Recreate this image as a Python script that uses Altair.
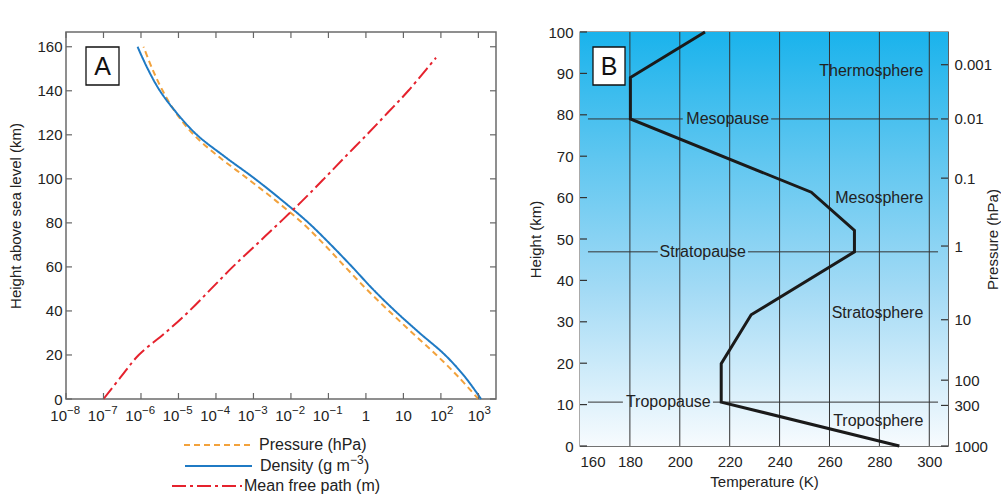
import altair as alt
import pandas as pd

FONT = "Liberation Sans"
INK = "#222222"

# ---------------- Panel A: vertical profiles on a logarithmic axis ----------------
alt_km = [0, 10, 20, 30, 40, 50, 60, 70, 80, 90, 100, 110, 120, 130, 140, 150, 160]
pressure_hpa = [1.0e3, 2.95e2, 7.6e1, 1.74e1, 4.1, 1.02, 2.8e-1, 7.9e-2, 2.0e-2, 4.0e-3,
                7.1e-4, 1.2e-4, 2.57e-5, 8.5e-6, 3.8e-6, 2.0e-6, 1.17e-6]
density_gm3 = [1.18e3, 4.4e2, 1.29e2, 2.7e1, 6.0, 1.51, 4.3e-1, 1.17e-1, 2.95e-2, 6.0e-3,
               1.1e-3, 1.74e-4, 3.1e-5, 8.9e-6, 3.2e-6, 1.51e-6, 8.1e-7]
mfp_km = [0, 10, 20, 30, 40, 50, 60, 70, 80, 90, 100, 110, 120, 130, 140, 150, 155]
mfp_m = [1.0e-7, 2.9e-7, 8.7e-7, 4.4e-6, 1.95e-5, 7.4e-5, 2.8e-4, 1.17e-3, 4.9e-3, 2.0e-2,
         7.6e-2, 2.8e-1, 1.05, 3.8, 1.35e1, 4.2e1, 7.4e1]

series_names = ["Pressure (hPa)", "Density (g m", "Mean free path (m)"]
series_colors = ["#F2A23C", "#1F7AC4", "#E5222D"]
series_dashes = [[6, 4], [1, 0], [14, 4, 3, 4]]

neg_exp = [-8, -7, -6, -5, -4, -3, -2, -1]
pos_exp = [2, 3]
plain_vals = [1, 10]
plain_labels = ["1", "10"]
height_ticks_a = [0, 20, 40, 60, 80, 100, 120, 140, 160]

# ---------------- Panel B: standard temperature profile ----------------
temp_k = [288.0, 216.6, 216.6, 228.6, 270.0, 270.0, 252.7, 180.2, 180.2, 210.1]
temp_km = [0.0, 10.6, 19.9, 31.7, 46.9, 52.1, 61.3, 79.0, 89.0, 100.0]

temp_grid_k = [180, 200, 220, 240, 260, 280, 300]
temp_ticks_k = [160, 180, 200, 220, 240, 260, 280, 300]
height_ticks_b = [0, 10, 20, 30, 40, 50, 60, 70, 80, 90, 100]

layer_names = ["Thermosphere", "Mesosphere", "Stratosphere", "Troposphere"]
layer_label_km = [90.6, 59.8, 32.2, 6.0]
layer_label_k = [297.6, 297.6, 297.6, 297.6]

pause_names = ["Mesopause", "Stratopause", "Tropopause"]
pause_km = [79.0, 46.9, 10.6]
pause_label_k = [219.2, 209.2, 195.4]
pause_line_k = [163.2, 303.5]
pause_gap_from_k = [201.2, 191.2, 177.2]
pause_gap_to_k = [236.6, 227.3, 213.3]

pressure_tick_labels = ["1000", "300", "100", "10", "1", "0.1", "0.01", "0.001"]
pressure_tick_km = [0.0, 9.8, 15.9, 30.5, 48.3, 64.7, 79.0, 92.1]

# ---------------- tables ----------------
rows = []
for h, v in zip(alt_km, pressure_hpa):
    rows.append({"series": series_names[0], "height": h, "value": v})
for h, v in zip(alt_km, density_gm3):
    rows.append({"series": series_names[1], "height": h, "value": v})
for h, v in zip(mfp_km, mfp_m):
    rows.append({"series": series_names[2], "height": h, "value": v})
profiles = pd.DataFrame(rows)

decades_df = pd.DataFrame({"value": [10.0 ** e for e in range(-8, 4)]})
neg_df = pd.DataFrame({"value": [10.0 ** e for e in neg_exp],
                       "exp": ["\u2212" + str(-e) for e in neg_exp]})
pos_df = pd.DataFrame({"value": [10.0 ** e for e in pos_exp],
                       "exp": [str(e) for e in pos_exp]})
plain_df = pd.DataFrame({"value": plain_vals, "label": plain_labels})
heights_a_df = pd.DataFrame({"height": height_ticks_a})
one = pd.DataFrame({"k": [0]})

# ---------------- panel A ----------------
W_A, H_A = 430, 367
x_scale_a = alt.Scale(type="log", domain=[1e-8, 2950], nice=False)
y_scale_a = alt.Scale(domain=[0, 166.7], nice=False, zero=False)

y_axis_a = alt.Axis(values=height_ticks_a, ticks=False, domain=False, grid=False,
                    title="Height above sea level (km)", titleFontSize=15,
                    titleFontWeight="normal", titleColor=INK, titlePadding=13,
                    labelFontSize=15, labelPadding=4, labelColor=INK)

X_A = alt.X("value:Q", scale=x_scale_a, axis=None)

curves = alt.Chart(profiles).mark_line(strokeWidth=2, interpolate="catmull-rom").encode(
    x=X_A,
    y=alt.Y("height:Q", scale=y_scale_a, axis=y_axis_a),
    color=alt.Color("series:N", scale=alt.Scale(domain=series_names, range=series_colors),
                    legend=None),
    strokeDash=alt.StrokeDash("series:N",
                              scale=alt.Scale(domain=series_names, range=series_dashes),
                              legend=None),
    order=alt.Order("height:Q"),
)

tick_color_a = "#666666"
ticks_bottom = alt.Chart(decades_df).mark_rule(color=tick_color_a, strokeWidth=1.2).encode(
    x=X_A, y=alt.value(H_A), y2=alt.value(H_A - 6))
ticks_top = alt.Chart(decades_df).mark_rule(color=tick_color_a, strokeWidth=1.2).encode(
    x=X_A, y=alt.value(0), y2=alt.value(6))
ticks_left = alt.Chart(heights_a_df).mark_rule(color=tick_color_a, strokeWidth=1.2).encode(
    y=alt.Y("height:Q", scale=y_scale_a, axis=y_axis_a),
    x=alt.value(0), x2=alt.value(6))
ticks_right = alt.Chart(heights_a_df).mark_rule(color=tick_color_a, strokeWidth=1.2).encode(
    y=alt.Y("height:Q", scale=y_scale_a, axis=y_axis_a),
    x=alt.value(W_A - 6), x2=alt.value(W_A))

# decade labels written as a base "10" with a raised exponent
LAB_Y = H_A + 17
neg_base = alt.Chart(neg_df).mark_text(text="10", fontSize=15, color=INK, align="right",
                                       baseline="middle", dx=1).encode(x=X_A, y=alt.value(LAB_Y))
neg_sup = alt.Chart(neg_df).mark_text(fontSize=11.5, color=INK, align="left",
                                      baseline="middle", dx=1, dy=-5).encode(
    x=X_A, y=alt.value(LAB_Y), text="exp:N")
pos_base = alt.Chart(pos_df).mark_text(text="10", fontSize=15, color=INK, align="right",
                                       baseline="middle", dx=6).encode(x=X_A, y=alt.value(LAB_Y))
pos_sup = alt.Chart(pos_df).mark_text(fontSize=11.5, color=INK, align="left",
                                      baseline="middle", dx=6, dy=-5).encode(
    x=X_A, y=alt.value(LAB_Y), text="exp:N")
plain_lab = alt.Chart(plain_df).mark_text(fontSize=15, color=INK, align="center",
                                          baseline="middle").encode(
    x=X_A, y=alt.value(LAB_Y), text="label:N")

# legend block beneath the plot
leg_y = [413, 434, 454]
leg_x0 = [118, 119, 106]
leg_x1 = [186, 186, 176]
leg_tx = [193, 194, 178]
legend_layers = []
for i in range(3):
    legend_layers.append(
        alt.Chart(one).mark_rule(color=series_colors[i], strokeDash=series_dashes[i],
                                 strokeWidth=2).encode(
            x=alt.value(leg_x0[i]), x2=alt.value(leg_x1[i]), y=alt.value(leg_y[i])))
    legend_layers.append(
        alt.Chart(one).mark_text(text=series_names[i], fontSize=16, color=INK, align="left",
                                 baseline="middle").encode(
            x=alt.value(leg_tx[i]), y=alt.value(leg_y[i])))
legend_layers.append(
    alt.Chart(one).mark_text(text="\u22123", fontSize=12, color=INK, align="left",
                             baseline="middle", dy=-6).encode(
        x=alt.value(leg_tx[1] + 90), y=alt.value(leg_y[1])))
legend_layers.append(
    alt.Chart(one).mark_text(text=")", fontSize=16, color=INK, align="left",
                             baseline="middle").encode(
        x=alt.value(leg_tx[1] + 104), y=alt.value(leg_y[1])))

box_a = alt.Chart(one).mark_rect(fill="white", stroke="#111111", strokeWidth=1.3).encode(
    x=alt.value(20), x2=alt.value(53), y=alt.value(15), y2=alt.value(53))
box_a_text = alt.Chart(one).mark_text(text="A", fontSize=25, color="#111111",
                                      align="center", baseline="middle").encode(
    x=alt.value(36.5), y=alt.value(35))

panel_a = alt.layer(curves, ticks_bottom, ticks_top, ticks_left, ticks_right,
                    neg_base, neg_sup, pos_base, pos_sup, plain_lab,
                    box_a, box_a_text, *legend_layers).properties(
    width=W_A, height=H_A,
    view=alt.ViewBackground(stroke="#6b6b6b", strokeWidth=1.5, fill="white"))

# ---------------- panel B ----------------
W_B, H_B = 368, 414
t_scale = alt.Scale(domain=[160, 307.5], nice=False, zero=False)
h_scale = alt.Scale(domain=[0, 100], nice=False, zero=False)

x_axis_b = alt.Axis(values=temp_ticks_k, ticks=False, domain=False, grid=False,
                    title="Temperature (K)", titleFontSize=15, titleFontWeight="normal",
                    titleColor=INK, titlePadding=5, labelFontSize=15, labelPadding=8,
                    labelColor=INK)
y_axis_b = alt.Axis(values=height_ticks_b, ticks=False, domain=False, grid=False,
                    title="Height (km)", titleFontSize=15, titleFontWeight="normal",
                    titleColor=INK, titlePadding=4, labelFontSize=15, labelPadding=7,
                    labelColor=INK)

pressure_expr = " : ".join(
    f"datum.value == {h} ? '{lab}'" for h, lab in zip(pressure_tick_km, pressure_tick_labels)
) + " : ''"
y_axis_right = alt.Axis(orient="right", values=pressure_tick_km, labelExpr=pressure_expr,
                        ticks=False, domain=False, grid=False,
                        title="Pressure (hPa)", titleFontSize=15, titleFontWeight="normal",
                        titleColor=INK, titleAngle=270, titleX=44, titleY=H_B / 2,
                        titleAlign="center", titleBaseline="middle",
                        labelFontSize=15, labelPadding=6, labelColor=INK)

sky = alt.Chart(one).mark_rect(
    fill=alt.LinearGradient(
        gradient="linear", x1=0, x2=0, y1=0, y2=1,
        stops=[alt.GradientStop(color="#1AB3EC", offset=0),
               alt.GradientStop(color="#5EC6F0", offset=0.3),
               alt.GradientStop(color="#A2DAF5", offset=0.62),
               alt.GradientStop(color="#F7FBFE", offset=1)]),
).encode(x=alt.value(0), x2=alt.value(W_B), y=alt.value(0), y2=alt.value(H_B))

grid_df = pd.DataFrame({"t": temp_grid_k})
grid_lines = alt.Chart(grid_df).mark_rule(color="#333333", strokeWidth=1).encode(
    x=alt.X("t:Q", scale=t_scale, axis=x_axis_b),
    y=alt.value(0), y2=alt.value(H_B))

seg_rows = []
for km, g0, g1 in zip(pause_km, pause_gap_from_k, pause_gap_to_k):
    seg_rows.append({"t1": pause_line_k[0], "t2": g0, "h": km})
    seg_rows.append({"t1": g1, "t2": pause_line_k[1], "h": km})
pause_lines = alt.Chart(pd.DataFrame(seg_rows)).mark_rule(color="#333333", strokeWidth=1).encode(
    x=alt.X("t1:Q", scale=t_scale, axis=x_axis_b), x2="t2:Q",
    y=alt.Y("h:Q", scale=h_scale, axis=y_axis_b))

pause_text = alt.Chart(pd.DataFrame({"name": pause_names, "t": pause_label_k, "h": pause_km})
                       ).mark_text(fontSize=16, color=INK, align="center", baseline="middle").encode(
    x=alt.X("t:Q", scale=t_scale, axis=x_axis_b),
    y=alt.Y("h:Q", scale=h_scale, axis=y_axis_b),
    text="name:N")

layer_text = alt.Chart(pd.DataFrame({"name": layer_names, "t": layer_label_k, "h": layer_label_km})
                       ).mark_text(fontSize=16, color=INK, align="right", baseline="middle").encode(
    x=alt.X("t:Q", scale=t_scale, axis=x_axis_b),
    y=alt.Y("h:Q", scale=h_scale, axis=y_axis_b),
    text="name:N")

temp_df = pd.DataFrame({"t": temp_k, "h": temp_km, "i": list(range(len(temp_k)))})
temp_line = alt.Chart(temp_df).mark_line(color="#1a1a1a", strokeWidth=3).encode(
    x=alt.X("t:Q", scale=t_scale, axis=x_axis_b),
    y=alt.Y("h:Q", scale=h_scale, axis=y_axis_b),
    order=alt.Order("i:Q"))

ticks_b_left = alt.Chart(pd.DataFrame({"h": height_ticks_b})).mark_rule(
    color="#333333", strokeWidth=1.2).encode(
    y=alt.Y("h:Q", scale=h_scale, axis=y_axis_b),
    x=alt.value(0), x2=alt.value(7))

box_b = alt.Chart(one).mark_rect(fill="white", stroke="#111111", strokeWidth=1.3).encode(
    x=alt.value(13), x2=alt.value(45), y=alt.value(15), y2=alt.value(53))
box_b_text = alt.Chart(one).mark_text(text="B", fontSize=25, color="#111111",
                                      align="center", baseline="middle").encode(
    x=alt.value(29), y=alt.value(35))

inner_b = alt.layer(sky, grid_lines, pause_lines, temp_line, pause_text, layer_text,
                    ticks_b_left, box_b, box_b_text)

ticks_b_right = alt.Chart(pd.DataFrame({"h": pressure_tick_km})).mark_rule(
    color="#333333", strokeWidth=1.2).encode(
    y=alt.Y("h:Q", scale=h_scale, axis=y_axis_right),
    x=alt.value(W_B - 7), x2=alt.value(W_B))

panel_b = alt.layer(inner_b, ticks_b_right).resolve_scale(y="independent").properties(
    width=W_B, height=H_B,
    view=alt.ViewBackground(stroke="#444444", strokeWidth=1.3))

chart = alt.hconcat(panel_a, panel_b, spacing=30).properties(
    padding={"left": 8, "top": 24, "right": 0, "bottom": 0},
    background="white",
).configure(font=FONT)

chart.save("out.html", embed_options={"renderer": "svg", "actions": False})
